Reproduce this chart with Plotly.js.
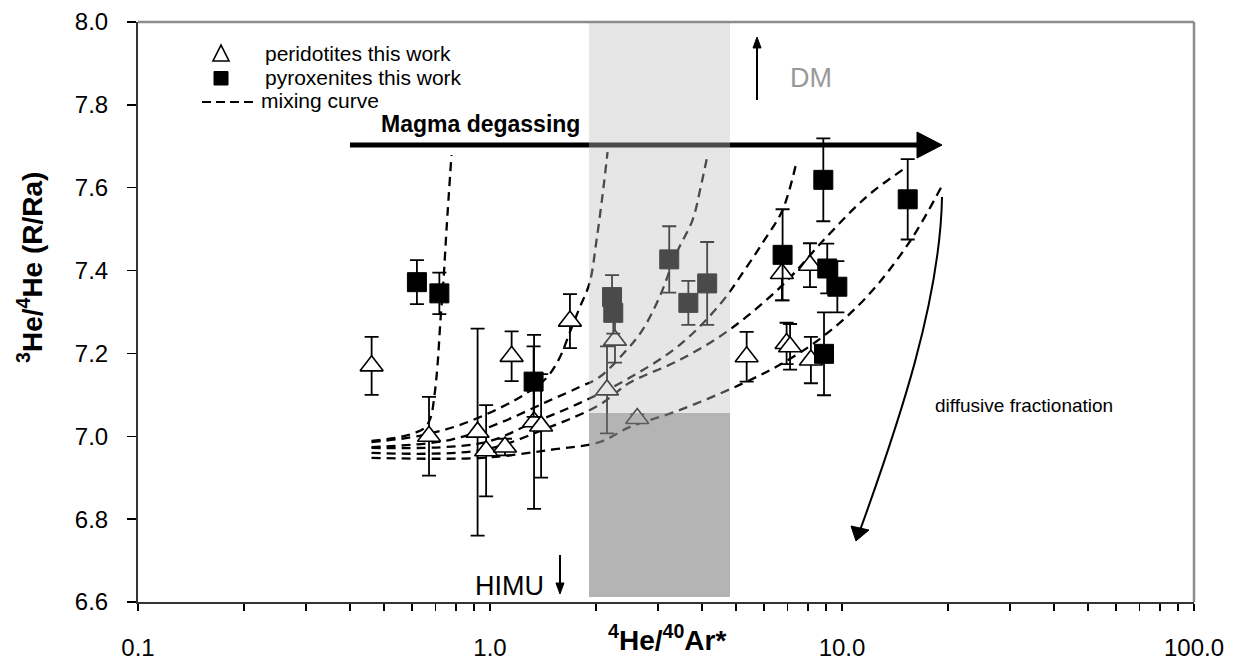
<!DOCTYPE html>
<html>
<head>
<meta charset="utf-8">
<script src="https://cdn.plot.ly/plotly-3.0.1.min.js"></script>
<style>html,body{margin:0;padding:0;background:#fff;}#chart{width:1237px;height:660px;}</style>
</head>
<body>
<div id="chart"></div>
<script>
// ---- data ----
const peridX   = [0.461, 0.671, 0.922, 0.975, 1.103, 1.152, 1.334, 1.397, 1.687, 2.15, 2.265, 2.62, 5.36, 6.75, 6.96, 7.12, 8.11, 8.16];
const peridY   = [7.17, 7.00, 7.01, 6.965, 6.974, 7.193, 7.035, 7.025, 7.278, 7.112, 7.232, 7.043, 7.192, 7.393, 7.224, 7.216, 7.413, 7.184];
const peridErr = [0.07, 0.095, 0.25, 0.11, 0.02, 0.06, 0.21, 0.125, 0.065, 0.105, 0.054, 0.01, 0.06, 0.065, 0.05, 0.055, 0.053, 0.056];

const pyroxX   = [0.62, 0.718, 1.33, 2.222, 2.24, 3.23, 3.66, 4.14, 6.78, 8.85, 9.08, 9.70, 8.89, 15.37];
const pyroxY   = [7.372, 7.345, 7.132, 7.336, 7.298, 7.427, 7.322, 7.369, 7.438, 7.619, 7.405, 7.361, 7.199, 7.572];
const pyroxErr = [0.053, 0.05, 0.085, 0.053, 0.05, 0.08, 0.053, 0.1, 0.11, 0.1, 0.06, 0.062, 0.1, 0.097];

const mix1X = [0.4606, 0.5532, 0.6103, 0.6514, 0.6776, 0.6956, 0.7095, 0.7233, 0.7377, 0.7523, 0.7773];
const mix1Y = [6.989, 6.998, 7.008, 7.020, 7.044, 7.100, 7.172, 7.281, 7.377, 7.498, 7.679];
const mix2X = [0.4606, 0.6307, 0.8190, 1.0641, 1.2696, 1.4473, 1.5759, 1.6823, 1.7963, 1.9180, 2.0079, 2.0881, 2.1576];
const mix2Y = [6.986, 7.001, 7.027, 7.068, 7.104, 7.141, 7.189, 7.249, 7.310, 7.370, 7.474, 7.582, 7.686];
const mix3X = [0.4606, 0.7673, 1.0641, 1.4473, 1.7963, 2.0474, 2.4427, 2.7125, 3.0301, 3.3859, 3.7618, 3.9627, 4.1487];
const mix3Y = [6.974, 6.991, 7.032, 7.083, 7.119, 7.143, 7.208, 7.257, 7.336, 7.442, 7.522, 7.599, 7.679];
const mix4X = [0.4606, 0.9521, 1.3203, 1.7963, 2.4910, 3.4540, 4.4875, 5.2845, 6.0237, 6.7764, 7.4253];
const mix4Y = [6.972, 6.984, 7.032, 7.080, 7.141, 7.220, 7.317, 7.401, 7.474, 7.546, 7.662];
const mix5X = [0.4606, 0.9521, 1.4757, 2.0474, 2.4910, 3.4540, 4.7887, 6.7764, 9.0365, 11.739, 14.856];
const mix5Y = [6.960, 6.967, 7.022, 7.076, 7.129, 7.184, 7.257, 7.365, 7.481, 7.578, 7.643];
const mix6X = [0.4606, 0.9521, 1.4757, 2.0474, 2.4910, 3.4540, 5.1143, 6.6438, 8.8023, 11.739, 15.553, 19.297];
const mix6Y = [6.948, 6.948, 6.967, 6.986, 7.022, 7.063, 7.124, 7.172, 7.240, 7.336, 7.469, 7.607];

const xTickVals = [0.1, 1, 10, 100];
const xTickText = ['0.1', '1.0', '10.0', '100.0'];
const xMinorVals = [0.2,0.3,0.4,0.5,0.6,0.7,0.8,0.9,2,3,4,5,6,7,8,9,20,30,40,50,60,70,80,90];

const legendLabels = ['peridotites this work', 'pyroxenites this work', 'mixing curve'];

// ---- traces ----
const FONT = '"Liberation Sans", Arial, sans-serif';
const mixSets = [[mix1X, mix1Y], [mix2X, mix2Y], [mix3X, mix3Y], [mix4X, mix4Y], [mix5X, mix5Y], [mix6X, mix6Y]];
const traces = mixSets.map(function (s) {
  return {
    x: s[0], y: s[1], type: 'scatter', mode: 'lines', showlegend: false, hoverinfo: 'skip',
    line: {color: '#000', width: 2.3, dash: '9px,6px', shape: 'spline', smoothing: 1}
  };
});
traces.push({
  x: peridX, y: peridY, type: 'scatter', mode: 'markers', name: legendLabels[0], showlegend: false,
  marker: {symbol: 'triangle-up', size: 20, color: '#fff', line: {color: '#000', width: 1.6}},
  error_y: {type: 'data', array: peridErr, visible: true, color: '#000', thickness: 1.8, width: 7}
});
traces.push({
  x: pyroxX, y: pyroxY, type: 'scatter', mode: 'markers', name: legendLabels[1], showlegend: false,
  marker: {symbol: 'square', size: 19, color: '#000', line: {color: '#000', width: 1}},
  error_y: {type: 'data', array: pyroxErr, visible: true, color: '#000', thickness: 1.8, width: 7}
});

// pixel -> paper helpers for decorations (plot area 138..1194 x 22..602)
function px(p) { return (p - 138) / 1056; }
function py(p) { return (602 - p) / 580; }
function P(a, b) { return px(a).toFixed(4) + ',' + py(b).toFixed(4); }

const shapes = [
  // Magma degassing arrow
  {type: 'line', xref: 'paper', yref: 'paper', x0: px(350), x1: px(920), y0: py(145), y1: py(145), line: {color: '#000', width: 5}, layer: 'above'},
  {type: 'path', xref: 'paper', yref: 'paper', path: 'M' + P(917, 132) + ' L' + P(942, 145) + ' L' + P(917, 158) + ' Z', fillcolor: '#000', line: {color: '#000', width: 1}, layer: 'above'},
  // DM arrow
  {type: 'line', xref: 'paper', yref: 'paper', x0: px(757), x1: px(757), y0: py(100), y1: py(45), line: {color: '#000', width: 2}, layer: 'above'},
  {type: 'path', xref: 'paper', yref: 'paper', path: 'M' + P(753, 48) + ' L' + P(757, 37) + ' L' + P(761, 48) + ' Z', fillcolor: '#000', line: {color: '#000', width: 1}, layer: 'above'},
  // HIMU arrow
  {type: 'line', xref: 'paper', yref: 'paper', x0: px(560), x1: px(560), y0: py(555), y1: py(586), line: {color: '#000', width: 2}, layer: 'above'},
  {type: 'path', xref: 'paper', yref: 'paper', path: 'M' + P(556, 583) + ' L' + P(560, 594) + ' L' + P(564, 583) + ' Z', fillcolor: '#000', line: {color: '#000', width: 1}, layer: 'above'},
  // diffusive fractionation curved arrow
  {type: 'path', xref: 'paper', yref: 'paper', path: 'M' + P(942, 197) + ' C' + P(940, 300) + ' ' + P(900, 420) + ' ' + P(858, 536), line: {color: '#000', width: 2}, layer: 'above'},
  {type: 'path', xref: 'paper', yref: 'paper', path: 'M' + P(851, 526) + ' L' + P(856, 541) + ' L' + P(869, 530) + ' Z', fillcolor: '#000', line: {color: '#000', width: 1}, layer: 'above'},
  // gray bands (translucent, above the data)
  {type: 'rect', xref: 'paper', yref: 'paper', x0: px(589), x1: px(730), y0: py(413), y1: 1, fillcolor: 'rgba(191,191,191,0.39)', line: {width: 0}, layer: 'above'},
  {type: 'rect', xref: 'paper', yref: 'paper', x0: px(589), x1: px(730), y0: py(597), y1: py(413), fillcolor: 'rgba(140,140,140,0.65)', line: {width: 0}, layer: 'above'},
  // frame top / right
  {type: 'line', xref: 'paper', yref: 'paper', x0: 0, x1: 1, y0: 1, y1: 1, line: {color: '#8c8c8c', width: 2.5}, layer: 'above'},
  {type: 'line', xref: 'paper', yref: 'paper', x0: 1, x1: 1, y0: 0, y1: 1, line: {color: '#8c8c8c', width: 2.5}, layer: 'above'},
  // legend symbols
  {type: 'path', xref: 'paper', yref: 'paper', path: 'M' + P(213, 61) + ' L' + P(229, 61) + ' L' + P(221, 45) + ' Z', fillcolor: '#fff', line: {color: '#000', width: 1.6}, layer: 'above'},
  {type: 'rect', xref: 'paper', yref: 'paper', x0: px(214), x1: px(228), y0: py(85), y1: py(71.5), fillcolor: '#000', line: {color: '#000', width: 1}, layer: 'above'},
  {type: 'line', xref: 'paper', yref: 'paper', x0: px(202), x1: px(256), y0: py(102), y1: py(102), line: {color: '#000', width: 2, dash: '9px,5px'}, layer: 'above'}
];

const annotations = [
  {xref: 'paper', yref: 'paper', x: px(263), y: py(53), xanchor: 'left', yanchor: 'middle', text: legendLabels[0], showarrow: false, font: {family: FONT, size: 21, color: '#000'}},
  {xref: 'paper', yref: 'paper', x: px(263), y: py(77), xanchor: 'left', yanchor: 'middle', text: legendLabels[1], showarrow: false, font: {family: FONT, size: 21, color: '#000'}},
  {xref: 'paper', yref: 'paper', x: px(259), y: py(100), xanchor: 'left', yanchor: 'middle', text: legendLabels[2], showarrow: false, font: {family: FONT, size: 21, color: '#000'}},
  {xref: 'paper', yref: 'paper', x: px(379), y: py(124), xanchor: 'left', yanchor: 'middle', text: '<b>Magma degassing</b>', showarrow: false, font: {family: FONT, size: 23, color: '#000'}},
  {xref: 'paper', yref: 'paper', x: px(811), y: py(78), xanchor: 'center', yanchor: 'middle', text: 'DM', showarrow: false, font: {family: FONT, size: 27, color: '#999'}},
  {xref: 'paper', yref: 'paper', x: px(509), y: py(586), xanchor: 'center', yanchor: 'middle', text: 'HIMU', showarrow: false, font: {family: FONT, size: 27, color: '#000'}},
  {xref: 'paper', yref: 'paper', x: px(1024), y: py(405), xanchor: 'center', yanchor: 'middle', text: 'diffusive fractionation', showarrow: false, font: {family: FONT, size: 19, color: '#000'}},
  {xref: 'paper', yref: 'paper', x: px(667), y: py(638), xanchor: 'center', yanchor: 'middle', text: '<b><sup>4</sup>He/<sup>40</sup>Ar*</b>', showarrow: false, font: {family: FONT, size: 28, color: '#000'}},
  {xref: 'paper', yref: 'paper', x: px(30), y: py(268), xanchor: 'center', yanchor: 'middle', textangle: -90, text: '<b><sup>3</sup>He/<sup>4</sup>He (R/Ra)</b>', showarrow: false, font: {family: FONT, size: 28, color: '#000'}}
];

const layout = {
  width: 1237, height: 660,
  margin: {l: 138, r: 43, t: 22, b: 58, pad: 0},
  paper_bgcolor: '#fff', plot_bgcolor: '#fff',
  showlegend: false,
  font: {family: FONT, color: '#000'},
  xaxis: {
    type: 'log', range: [-1, 2], tickmode: 'array', tickvals: xTickVals, ticktext: xTickText,
    ticks: 'outside', ticklen: 7, tickwidth: 1.5, tickcolor: '#000',
    minor: {tickmode: 'array', tickvals: xMinorVals, ticks: 'outside', ticklen: 7, tickwidth: 1.5, tickcolor: '#000', showgrid: false},
    showline: true, linecolor: '#333', linewidth: 2, showgrid: false, zeroline: false,
    tickfont: {family: FONT, size: 24, color: '#000'}, ticklabelstandoff: 16
  },
  yaxis: {
    range: [6.6, 8.0], tickmode: 'linear', tick0: 6.6, dtick: 0.2, tickformat: '.1f',
    ticks: 'outside', ticklen: 9, tickwidth: 1.5, tickcolor: '#000',
    showline: true, linecolor: '#333', linewidth: 2, showgrid: false, zeroline: false,
    tickfont: {family: FONT, size: 24, color: '#000'}, ticklabelstandoff: 14
  },
  shapes: shapes,
  annotations: annotations
};

Plotly.newPlot('chart', traces, layout, {displayModeBar: false, staticPlot: true});
</script>
</body>
</html>
